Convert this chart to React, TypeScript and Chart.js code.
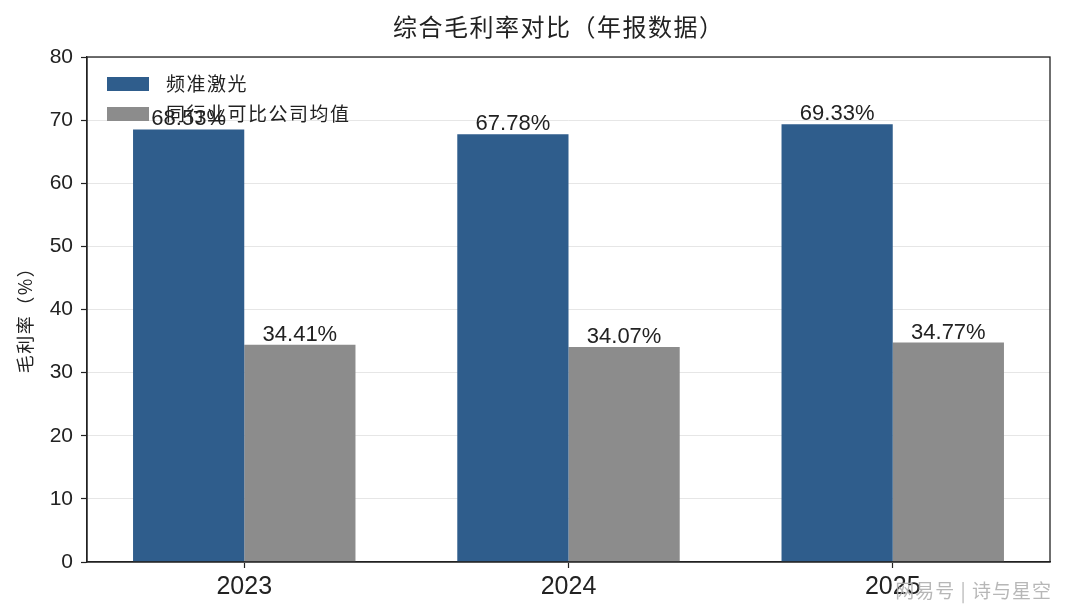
import React, { useEffect, useRef } from "react";
import { Chart, registerables } from "chart.js";

Chart.register(...registerables);

const categories = ["2023", "2024", "2025"];
const seriesNames = ["频准激光", "同行业可比公司均值"];
const pinzhunValues = [68.53, 67.78, 69.33];
const peerValues = [34.41, 34.07, 34.77];
const yTicks = [0, 10, 20, 30, 40, 50, 60, 70, 80];
const titleText = "综合毛利率对比（年报数据）";
const yAxisTitle = "毛利率（%）";
const watermark = "网易号 | 诗与星空";

const BLUE = "#2f5d8c";
const GRAY = "#8c8c8c";
const CJK = "'Noto Sans CJK SC', sans-serif";
const NUM = "'Liberation Sans', Arial, sans-serif";

export default function App() {
  const ref = useRef<HTMLCanvasElement | null>(null);

  useEffect(() => {
    document.body.style.margin = "0";
    const canvas = ref.current;
    if (!canvas) return;

    const overlay = {
      id: "overlay",
      afterDatasetsDraw(chart: any) {
        const ctx = chart.ctx;
        ctx.save();
        // legend
        const a = chart.chartArea;
        const colors = [BLUE, GRAY];
        ctx.font = `19px ${CJK}`;
        (ctx as any).letterSpacing = "1.5px";
        ctx.textAlign = "left";
        ctx.textBaseline = "middle";
        seriesNames.forEach((name, i) => {
          const cy = a.top + 27 + i * 30;
          ctx.fillStyle = colors[i];
          ctx.fillRect(a.left + 20, cy - 7, 42, 14);
          ctx.fillStyle = "#222";
          ctx.fillText(name, a.left + 79, cy);
        });
        (ctx as any).letterSpacing = "0px";
        // value labels
        ctx.font = `22px ${NUM}`;
        ctx.fillStyle = "#222";
        ctx.textAlign = "center";
        ctx.textBaseline = "alphabetic";
        chart.data.datasets.forEach((ds: any, di: number) => {
          const meta = chart.getDatasetMeta(di);
          meta.data.forEach((bar: any, i: number) => {
            const v = ds.data[i].y;
            ctx.fillText(v.toFixed(2) + "%", bar.x, bar.y - 4);
          });
        });
        ctx.restore();
      },
      afterDraw(chart: any) {
        const ctx = chart.ctx;
        const a = chart.chartArea;
        ctx.save();
        ctx.strokeStyle = "#222";
        ctx.lineWidth = 1.3;
        ctx.strokeRect(a.left, a.top, a.right - a.left, a.bottom - a.top);
        // title
        ctx.fillStyle = "#222";
        ctx.font = `24px ${CJK}`;
        (ctx as any).letterSpacing = "1.5px";
        ctx.textAlign = "left";
        ctx.textBaseline = "middle";
        ctx.fillText(titleText, 393, 27);
        // y axis title
        ctx.translate(25, (a.top + a.bottom) / 2 + 6);
        ctx.rotate(-Math.PI / 2);
        ctx.font = `18px ${CJK}`;
        (ctx as any).letterSpacing = "1.5px";
        ctx.textAlign = "center";
        ctx.fillText(yAxisTitle, 0, 0);
        ctx.restore();
        // watermark
        ctx.save();
        ctx.font = `19px ${CJK}`;
        (ctx as any).letterSpacing = "1px";
        ctx.textAlign = "right";
        ctx.textBaseline = "middle";
        ctx.fillStyle = "rgba(175,175,175,0.9)";
        ctx.fillText(watermark, 1052, 591);
        ctx.restore();
      },
    };

    const chart = new Chart(canvas, {
      type: "bar",
      data: {
        datasets: [
          {
            label: seriesNames[0],
            data: pinzhunValues.map((v, i) => ({ x: i, y: v })),
            backgroundColor: BLUE,
            barPercentage: 1,
            categoryPercentage: 0.686,
          },
          {
            label: seriesNames[1],
            data: peerValues.map((v, i) => ({ x: i, y: v })),
            backgroundColor: GRAY,
            barPercentage: 1,
            categoryPercentage: 0.686,
          },
        ],
      },
      options: {
        responsive: false,
        animation: false,
        layout: { padding: { top: 57, right: 15, left: 0, bottom: 0 } },
        plugins: {
          legend: { display: false },
          title: { display: false },
          tooltip: { enabled: false },
        },
        scales: {
          x: {
            type: "linear",
            offset: false,
            min: -0.485,
            max: 2.485,
            afterBuildTicks(scale: any) {
              scale.ticks = categories.map((_, i) => ({ value: i }));
            },
            afterFit(scale: any) {
              scale.height = 53;
            },
            ticks: {
              autoSkip: false,
              maxRotation: 0,
              padding: 4,
              color: "#222",
              font: { family: NUM, size: 25 },
              callback: (v: any) => categories[Math.round(Number(v))] ?? "",
            },
            grid: {
              offset: false,
              drawOnChartArea: false,
              tickLength: 6,
              tickColor: "#222",
              tickWidth: 1.2,
            },
            border: { color: "#222", width: 1.3 },
          },
          y: {
            min: 0,
            max: 80,
            afterBuildTicks(scale: any) {
              scale.ticks = yTicks.map((v) => ({ value: v }));
            },
            afterFit(scale: any) {
              scale.width = 87;
            },
            ticks: {
              padding: 8,
              color: "#222",
              font: { family: NUM, size: 21 },
            },
            grid: {
              color: "#e6e6e6",
              lineWidth: 1,
              tickLength: 6,
              tickColor: "#222",
              tickWidth: 1.2,
            },
            border: { color: "#222", width: 1.3 },
          },
        },
      },
      plugins: [overlay],
    } as any);

    return () => chart.destroy();
  }, []);

  return (
    <div style={{ position: "absolute", left: 0, top: 0, width: 1065, height: 615, background: "#fff" }}>
      <canvas ref={ref} width={1065} height={615} style={{ width: 1065, height: 615, display: "block" }} />
    </div>
  );
}
